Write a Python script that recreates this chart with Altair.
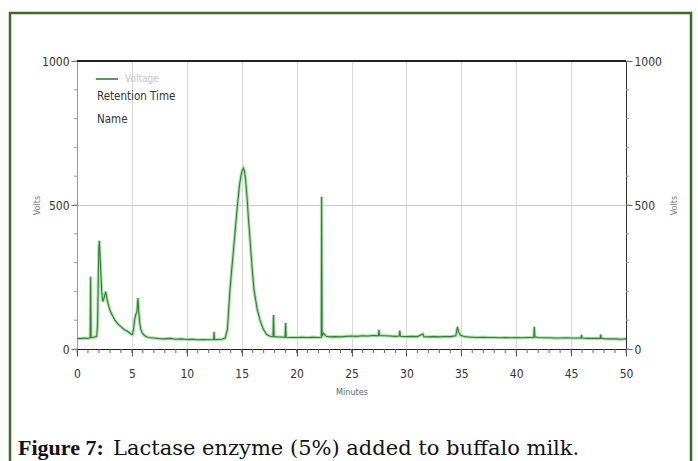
import altair as alt
import pandas as pd

minutes = [0.0, 0.3, 0.6, 0.9, 1.15, 1.2, 1.24, 1.28, 1.35, 1.6, 1.8, 1.88, 1.94, 1.99, 2.03, 2.08,
           2.15, 2.25, 2.34, 2.45, 2.55, 2.62, 2.68, 2.75, 2.9, 3.0, 3.2, 3.46, 3.7, 4.07, 4.35,
           4.67, 4.9, 5.05, 5.15, 5.25, 5.35, 5.45, 5.5, 5.55, 5.6, 5.7, 5.8, 5.95, 6.2, 6.5,
           7.0, 7.5, 8.0, 8.5, 9.0, 9.5, 10.0, 10.5, 11.0, 11.5, 12.0, 12.45, 12.48, 12.52, 12.8,
           13.2, 13.5, 13.7, 13.93, 14.1, 14.33, 14.6, 14.8, 14.95, 15.05, 15.15, 15.25, 15.35,
           15.5, 15.6, 15.76, 15.95, 16.12, 16.4, 16.67, 16.95, 17.27, 17.6, 17.85, 17.9, 17.95,
           18.3, 18.95, 19.0, 19.05, 19.5, 20.0, 20.5, 21.0, 21.5, 22.0, 22.25, 22.28, 22.32,
           22.45, 22.7, 23.0, 23.5, 24.0, 24.5, 25.0, 25.5, 26.0, 26.5, 27.0, 27.45, 27.5, 27.55,
           28.0, 28.5, 29.0, 29.35, 29.4, 29.45, 30.0, 30.5, 31.0, 31.5, 31.6, 32.0, 32.5, 33.0,
           33.5, 34.0, 34.5, 34.65, 34.75, 34.9, 35.2, 35.5, 36.0, 36.5, 37.0, 37.5, 38.0, 38.5,
           39.0, 39.5, 40.0, 40.5, 41.0, 41.6, 41.65, 41.7, 42.0, 42.5, 43.0, 43.5, 44.0, 44.5,
           45.0, 45.9, 45.95, 46.0, 46.5, 47.0, 47.65, 47.7, 47.75, 48.0, 48.5, 49.0, 49.5, 50.0]
volts = [37, 36, 38, 37, 38, 40, 251, 40, 39, 42, 44, 90, 250, 350, 376, 340,
         280, 200, 165, 175, 190, 199, 185, 170, 148, 135, 118, 100, 88, 75, 66,
         60, 52, 50, 70, 100, 120, 128, 150, 177, 140, 95, 70, 55, 45, 40,
         38, 36, 35, 37, 34, 35, 33, 34, 32, 33, 32, 33, 60, 33, 33,
         34, 38, 70, 205, 280, 378, 494, 570, 605, 620, 628, 618, 590,
         520, 460, 378, 280, 205, 140, 100, 70, 50, 44, 43, 118, 43,
         42, 41, 90, 41, 40, 40, 41, 40, 41, 40, 41, 529, 45,
         55, 44, 42, 43, 42, 44, 45, 44, 46, 45, 47, 46, 67, 47,
         46, 45, 44, 45, 64, 44, 43, 44, 43, 52, 43, 42, 43, 42,
         43, 43, 46, 77, 60, 48, 44, 42, 41, 40, 41, 40, 40, 39,
         40, 39, 40, 39, 40, 40, 77, 42, 40, 39, 39, 38, 38, 39,
         38, 38, 49, 38, 37, 37, 37, 50, 37, 36, 35, 35, 34, 35]

x_major = [0, 5, 10, 15, 20, 25, 30, 35, 40, 45, 50]
x_minor = list(range(0, 51))
y_major = [0, 500, 1000]
y_minor = list(range(0, 1001, 100))
series_name = "Voltage"
legend_lines = ["Retention Time", "Name"]
caption_bold = "Figure 7:"
caption_rest = "Lactase enzyme (5%) added to buffalo milk."

df = pd.DataFrame({"Minutes": minutes, "Volts": volts, "series": series_name})
xminor_df = pd.DataFrame({"Minutes": x_minor})
yminor_df = pd.DataFrame({"v": y_minor})

FONT = "Liberation Sans Narrow, DejaVu Sans Condensed, Liberation Sans"

x_scale = alt.Scale(domain=[0, 50], nice=False, zero=False)
y_scale = alt.Scale(domain=[0, 1000], nice=False)

x_axis = alt.Axis(
    values=x_major, title="Minutes", format="d",
    labelOverlap=False, labelBound=False, labelFlush=False,
    tickSize=7, grid=True, gridColor="#d8d8d8", gridWidth=1,
    domainColor="#222", domainWidth=1.2, tickColor="#555",
    labelColor="#333", labelFont=FONT, labelFontSize=12, labelPadding=12,
    titleFont=FONT, titleFontSize=9, titleColor="#666", titleFontWeight="normal", titlePadding=8,
)


def y_axis(orient, domain_color, title_pad, grid):
    return alt.Axis(
        orient=orient, values=y_major, title="Volts", format="d",
        labelOverlap=False, labelBound=False, labelFlush=False,
        tickSize=6, grid=grid, gridColor="#c8c8c8",
        domainColor=domain_color, tickColor="#666",
        labelColor="#333", labelFont=FONT, labelFontSize=12, labelPadding=2,
        titleFont=FONT, titleFontSize=9, titleColor="#777", titleFontWeight="normal",
        titleAngle=270, titlePadding=title_pad,
    )


X = alt.X("Minutes:Q", scale=x_scale, axis=x_axis)

base = alt.Chart(df)

halo = base.mark_line(color="#a8dca8", strokeWidth=3.2, opacity=0.9).encode(
    x=X,
    y=alt.Y("Volts:Q", scale=y_scale, axis=y_axis("left", "#999", 0, True)),
)

trace = base.mark_line(strokeWidth=1.1).encode(
    x=X,
    y=alt.Y("Volts:Q", scale=y_scale, axis=None),
    color=alt.Color("series:N", scale=alt.Scale(range=["#2f8032"]),
                    legend=alt.Legend(orient="none", legendX=18, legendY=6, title=None,
                                      symbolType="stroke", symbolSize=500, symbolStrokeWidth=1.6,
                                      labelColor="#c4c4c4", labelFont=FONT, labelFontSize=10,
                                      labelOffset=6, padding=0)),
)

right = base.mark_line(opacity=0).encode(
    x=X,
    y=alt.Y("Volts:Q", scale=y_scale, axis=y_axis("right", "#333", 17, False)),
)

top_rule = base.mark_rule(color="#222", strokeWidth=2).encode(
    y=alt.YDatum(1000, type="quantitative", scale=y_scale, axis=None),
)

x_minor_ticks = alt.Chart(xminor_df).mark_rule(color="#666", strokeWidth=1).encode(
    x=X,
    y=alt.value(288), y2=alt.value(292),
)

y_minor_left = alt.Chart(yminor_df).mark_rule(color="#999", strokeWidth=1).encode(
    y=alt.Y("v:Q", scale=y_scale, axis=None),
    x=alt.value(-3), x2=alt.value(0),
)

y_minor_right = alt.Chart(yminor_df).mark_rule(color="#999", strokeWidth=1).encode(
    y=alt.Y("v:Q", scale=y_scale, axis=None),
    x=alt.value(549), x2=alt.value(552),
)

legend_text1 = alt.Chart(alt.Data(values=[{"label": legend_lines[0]}])).mark_text(
    align="left", baseline="middle", font=FONT, fontSize=11.5, color="#333"
).encode(text="label:N", x=alt.value(20), y=alt.value(36))

legend_text2 = alt.Chart(alt.Data(values=[{"label": legend_lines[1]}])).mark_text(
    align="left", baseline="middle", font=FONT, fontSize=11.5, color="#333"
).encode(text="label:N", x=alt.value(20), y=alt.value(59))

cap1 = alt.Chart(alt.Data(values=[{"label": caption_bold}])).mark_text(
    align="left", baseline="alphabetic", font="Liberation Serif", fontSize=22,
    fontWeight="bold", color="#111"
).encode(text="label:N", x=alt.value(-59), y=alt.value(394))

cap2 = alt.Chart(alt.Data(values=[{"label": caption_rest}])).mark_text(
    align="left", baseline="alphabetic", font="DejaVu Serif", fontSize=21, color="#111"
).encode(text="label:N", x=alt.value(36), y=alt.value(394))

border = alt.Chart(alt.Data(values=[{"b": 1}])).mark_rect(
    fillOpacity=0, stroke="#3c6a2c", strokeWidth=2.5
).encode(x=alt.value(-67), x2=alt.value(614), y=alt.value(-48), y2=alt.value(430))

chart = alt.layer(
    halo, trace, right, top_rule, x_minor_ticks, y_minor_left, y_minor_right,
    legend_text1, legend_text2, cap1, cap2, border
).resolve_scale(y="shared").resolve_axis(y="independent").properties(
    width=549, height=288,
    padding={"left": 77, "top": 61, "right": 72, "bottom": 112},
    autosize=alt.AutoSizeParams(type="none"),
    background="white",
).configure_view(stroke=None)

chart.save("out.html", embed_options={"renderer": "svg", "actions": False})
